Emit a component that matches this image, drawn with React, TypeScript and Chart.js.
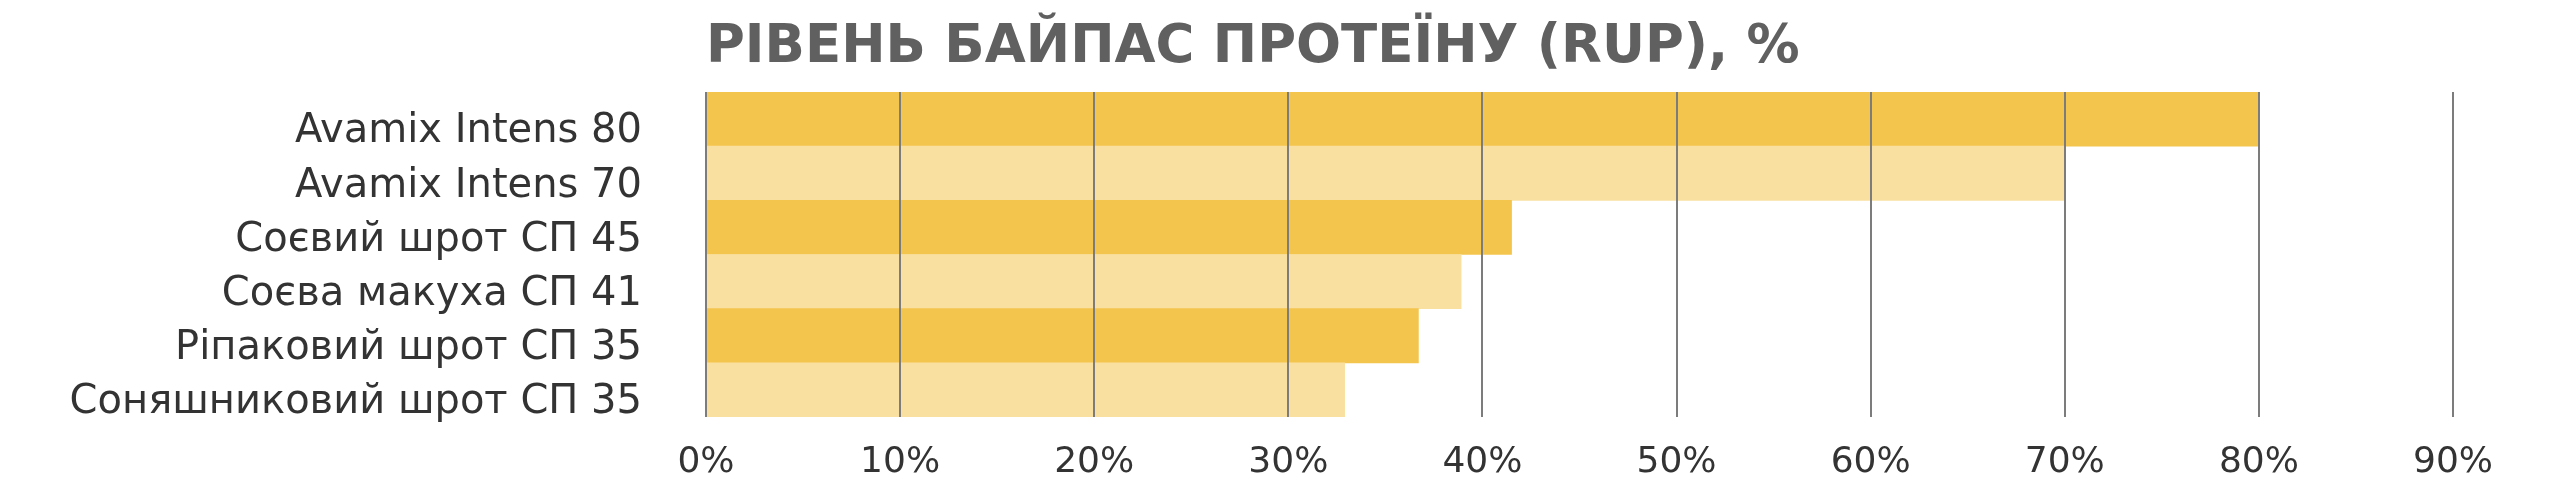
import { useEffect, useRef } from 'react';
import { Chart, registerables } from 'chart.js';

Chart.register(...registerables);

const TITLE = 'РІВЕНЬ БАЙПАС ПРОТЕЇНУ (RUP), %';
const categories = [
  'Avamix Intens 80',
  'Avamix Intens 70',
  'Соєвий шрот СП 45',
  'Соєва макуха СП 41',
  'Ріпаковий шрот СП 35',
  'Соняшниковий шрот СП 35',
];
const rupValues = [80, 70, 41.5, 38.9, 36.7, 32.9];
const xTickValues = [0, 10, 20, 30, 40, 50, 60, 70, 80, 90];

const DARK = '#F4C54C';
const LIGHT = '#F9E0A0';
const FONT = '"DejaVu Sans", sans-serif';

export default function App() {
  const ref = useRef<HTMLCanvasElement>(null);

  useEffect(() => {
    if (!ref.current) return;
    const titlePlugin = {
      id: 'leftTitle',
      afterDraw(chart: any) {
        const { ctx, chartArea } = chart;
        ctx.save();
        ctx.font = `bold 53px ${FONT}`;
        ctx.fillStyle = '#606060';
        ctx.textAlign = 'left';
        ctx.textBaseline = 'alphabetic';
        ctx.fillText(TITLE, chartArea.left, 62);
        ctx.restore();
      },
    };
    const chart = new Chart(ref.current, {
      type: 'bar',
      data: {
        labels: categories,
        datasets: [
          {
            data: rupValues,
            backgroundColor: categories.map((_, i) => (i % 2 === 0 ? DARK : LIGHT)),
            borderWidth: 0,
            barPercentage: 1,
            categoryPercentage: 1,
          },
        ],
      },
      options: {
        indexAxis: 'y',
        responsive: false,
        animation: false,
        layout: { padding: { top: 92, right: 107, left: 0, bottom: 0 } },
        plugins: {
          legend: { display: false },
          tooltip: { enabled: false },
          title: { display: false },
        },
        scales: {
          x: {
            type: 'linear',
            min: xTickValues[0],
            max: xTickValues[xTickValues.length - 1],
            z: 1,
            grid: { color: '#7c7c7c', lineWidth: 2, drawTicks: false, z: 1 },
            border: { display: false },
            afterBuildTicks: (s: any) => {
              s.ticks = xTickValues.map((v) => ({ value: v }));
            },
            ticks: {
              padding: 24,
              color: '#333333',
              font: { family: FONT, size: 36 },
              callback: (v: any) => `${v}%`,
            },
            afterFit: (s: any) => {
              s.height = 87;
            },
          },
          y: {
            grid: { display: false },
            border: { display: false },
            ticks: {
              padding: 56,
              color: '#333333',
              font: { family: FONT, size: 40 },
              labelOffset: 13,
            },
            afterFit: (s: any) => {
              s.width = 706;
            },
          },
        },
      } as any,
      plugins: [titlePlugin],
    });
    return () => chart.destroy();
  }, []);

  return (
    <div style={{ position: 'fixed', left: 0, top: 0, width: 2560, height: 504, background: '#ffffff' }}>
      <canvas ref={ref} width={2560} height={504} style={{ display: 'block' }} />
    </div>
  );
}
